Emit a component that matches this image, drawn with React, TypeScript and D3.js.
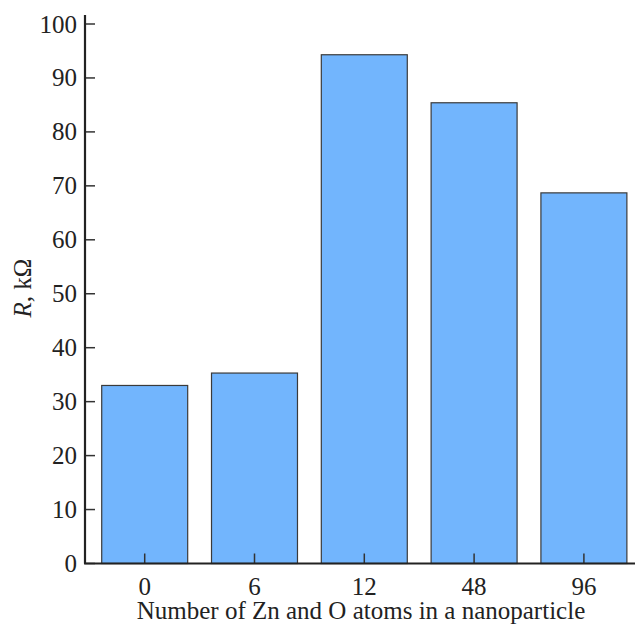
import React from "react";
import * as d3 from "d3";

const categories = ["0", "6", "12", "48", "96"];
const values = [33.0, 35.3, 94.3, 85.4, 68.7];
const yTicks = [0, 10, 20, 30, 40, 50, 60, 70, 80, 90, 100];

const W = 635;
const H = 624;
const FONT = "'Liberation Serif', 'Times New Roman', serif";
const FS = 25;

export default function App() {
  const axisX = 85;
  const y = d3.scaleLinear().domain([0, 100]).range([563.5, 24]);
  const x = d3
    .scaleBand<string>()
    .domain(categories)
    .range([89.8, 638.8])
    .paddingInner(0.217)
    .paddingOuter(0.1085);

  return (
    <svg
      width={W}
      height={H}
      style={{ position: "absolute", left: 0, top: 0, background: "#fff" }}
    >
      {categories.map((c, i) => (
        <rect
          key={c}
          x={x(c)}
          y={y(values[i])}
          width={x.bandwidth()}
          height={y(0) - y(values[i])}
          fill="#72b5fd"
          stroke="#3a3a3a"
          strokeWidth={1.2}
        />
      ))}
      {/* x ticks */}
      {categories.map((c) => {
        const cx = (x(c) as number) + x.bandwidth() / 2;
        return (
          <g key={"xt" + c}>
            <line x1={cx} x2={cx} y1={y(0)} y2={y(0) - 10} stroke="#333" strokeWidth={1.5} />
            <text
              x={cx}
              y={594.5}
              textAnchor="middle"
              fontFamily={FONT}
              fontSize={FS}
              fill="#222"
            >
              {c}
            </text>
          </g>
        );
      })}
      {/* y ticks */}
      {yTicks.map((t) => (
        <g key={"yt" + t}>
          <line x1={axisX} x2={axisX + 10} y1={y(t)} y2={y(t)} stroke="#333" strokeWidth={1.5} />
          <text
            x={77}
            y={y(t) + 8.5}
            textAnchor="end"
            fontFamily={FONT}
            fontSize={FS}
            fill="#222"
          >
            {t}
          </text>
        </g>
      ))}
      {/* axes */}
      <line x1={axisX} x2={axisX} y1={15} y2={y(0)} stroke="#222" strokeWidth={2.2} />
      <line x1={axisX - 1} x2={W} y1={y(0)} y2={y(0)} stroke="#222" strokeWidth={2.2} />
      <text
        x={361}
        y={619}
        textAnchor="middle"
        fontFamily={FONT}
        fontSize={FS}
        fill="#222"
      >
        Number of Zn and O atoms in a nanoparticle
      </text>
      <text
        transform="translate(31,288) rotate(-90)"
        textAnchor="middle"
        fontFamily={FONT}
        fontSize={FS}
        fill="#222"
      >
        <tspan fontStyle="italic">R</tspan>, kΩ
      </text>
    </svg>
  );
}
